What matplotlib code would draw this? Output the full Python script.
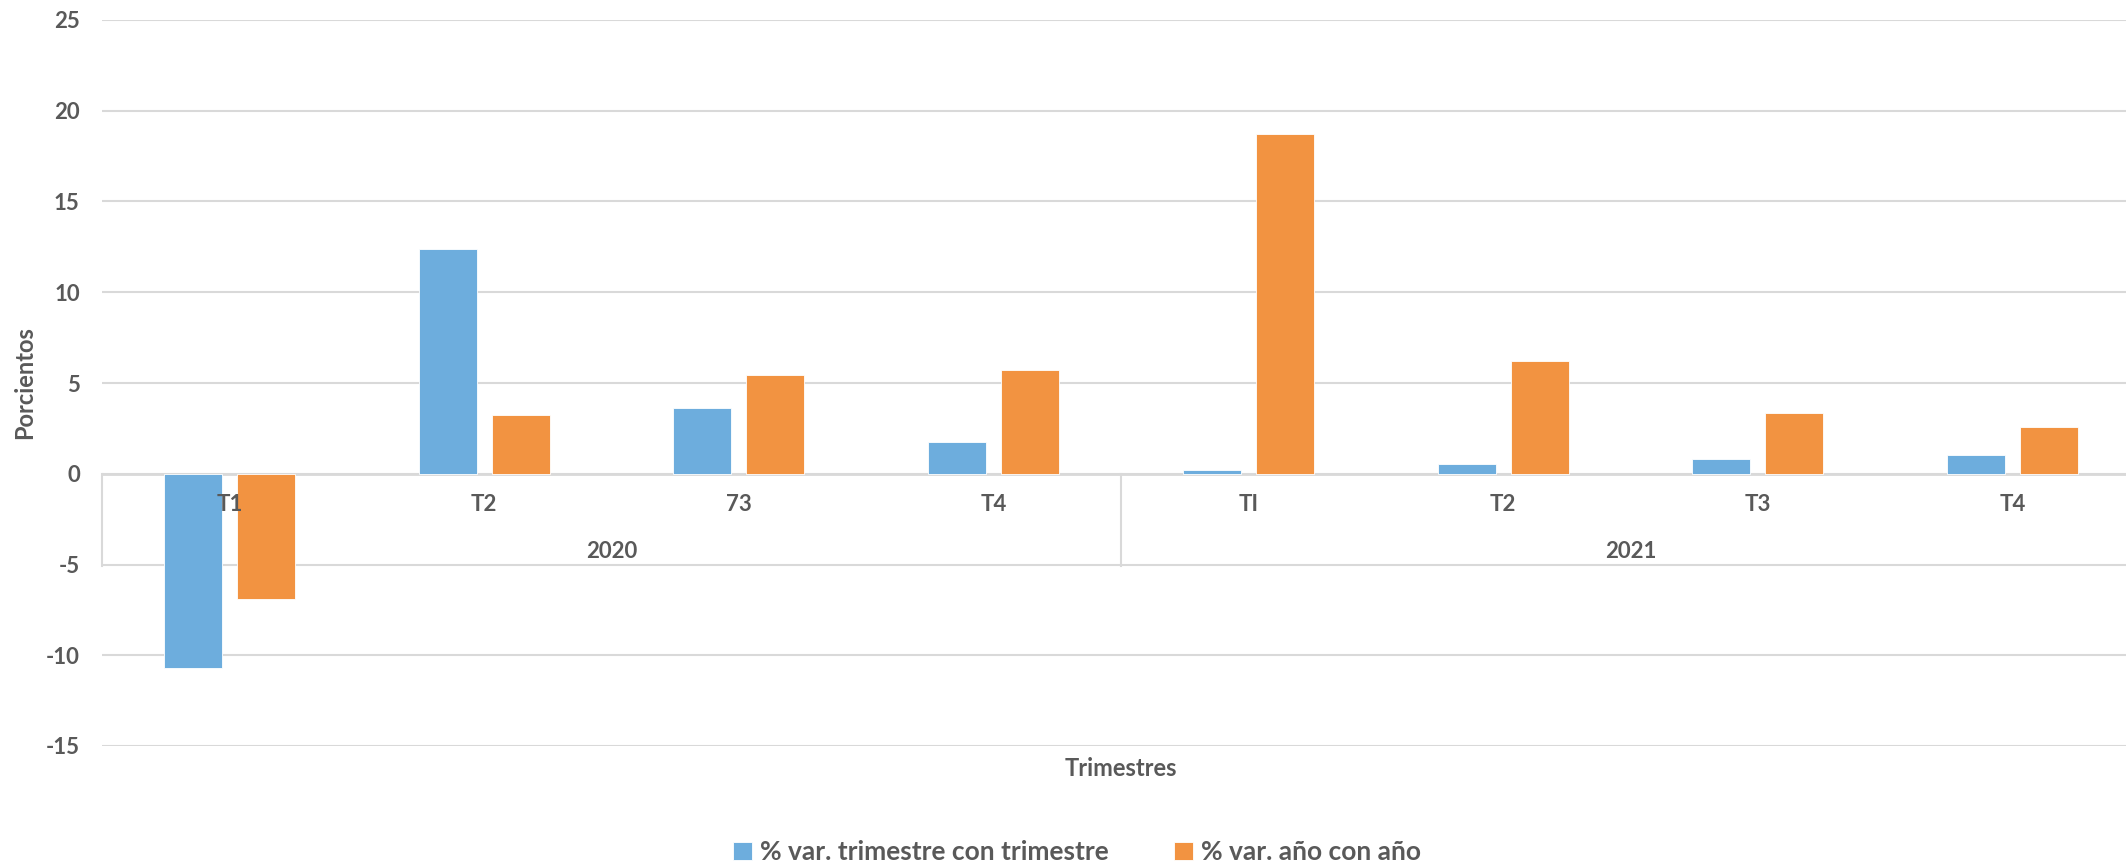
import matplotlib
matplotlib.use("Agg")
import matplotlib.pyplot as plt
import numpy as np


# Data
quarters = ["T1", "T2", "73", "T4", "TI", "T2", "T3", "T4"]
years = ["2020", "2021"]
quarters_per_year = 4
var_trimestral = [-10.7, 12.4, 3.6, 1.75, 0.2, 0.52, 0.82, 1.02]
var_anual = [-6.9, 3.25, 5.45, 5.72, 18.72, 6.23, 3.33, 2.6]
series_names = ["% var. trimestre con trimestre", "% var. año con año"]


# Style
BLUE = "#6DADDD"
ORANGE = "#F29341"
TEXT = "#595959"
GRID = "#D9D9D9"
plt.rcParams["font.family"] = ["Lato", "DejaVu Sans"]
plt.rcParams["font.weight"] = "bold"
plt.rcParams["axes.unicode_minus"] = False

fig = plt.figure(figsize=(21.26, 8.65), dpi=100)
W, H = 2126, 865
ax = fig.add_axes([102 / W, 119 / H, 2038 / W, 726 / H])

x = np.arange(len(quarters))
width = 0.2275
offset = 0.143
ax.bar(x - offset, var_trimestral, width, color=BLUE, edgecolor="white",
       linewidth=0.6, label=series_names[0], zorder=3)
ax.bar(x + offset, var_anual, width, color=ORANGE, edgecolor="white",
       linewidth=0.6, label=series_names[1], zorder=3)

ax.set_xlim(-0.5, len(quarters) - 0.5)
ax.set_ylim(-15, 25)
ax.set_yticks(range(-15, 26, 5))
ax.yaxis.grid(True, color=GRID, linewidth=1.5, zorder=0)
ax.set_axisbelow(True)
for s in ax.spines.values():
    s.set_visible(False)
ax.tick_params(axis="y", length=0, pad=16, labelsize=16, labelcolor=TEXT)
ax.set_xticks([])

# category axis at zero
ax.axhline(0, color=GRID, linewidth=2, zorder=2)

# quarter labels and year labels (multi-level axis)
for i, q in enumerate(quarters):
    ax.annotate(q, xy=(i, 0), xytext=(0, -31), textcoords="offset pixels",
                ha="center", va="center", fontsize=16, color=TEXT,
                fontweight="bold", zorder=5)
for j, yr in enumerate(years):
    mid = j * quarters_per_year + (quarters_per_year - 1) / 2
    ax.annotate(yr, xy=(mid, 0), xytext=(0, -78), textcoords="offset pixels",
                ha="center", va="center", fontsize=16, color=TEXT,
                fontweight="bold")
for k in range(len(years) + 1):
    xs = k * quarters_per_year - 0.5
    ax.plot([xs, xs], [0, -5.1], color=GRID, linewidth=1.5, clip_on=False,
            zorder=1)

fig.text(25 / W, 1 - 383 / H, "Porcientos", rotation=90, ha="center",
         va="center", fontsize=17, color=TEXT, fontweight="bold")
fig.text(1121 / W, 1 - 769 / H, "Trimestres", ha="center", va="center",
         fontsize=17, color=TEXT, fontweight="bold")

fig.legend(loc="center", bbox_to_anchor=(1077 / W, 1 - 852 / H), ncol=2,
           frameon=False, fontsize=19, handlelength=0.7, handleheight=0.7,
           handletextpad=0.3, columnspacing=2.5, labelcolor=TEXT)

fig.savefig("out.png", dpi=100)
